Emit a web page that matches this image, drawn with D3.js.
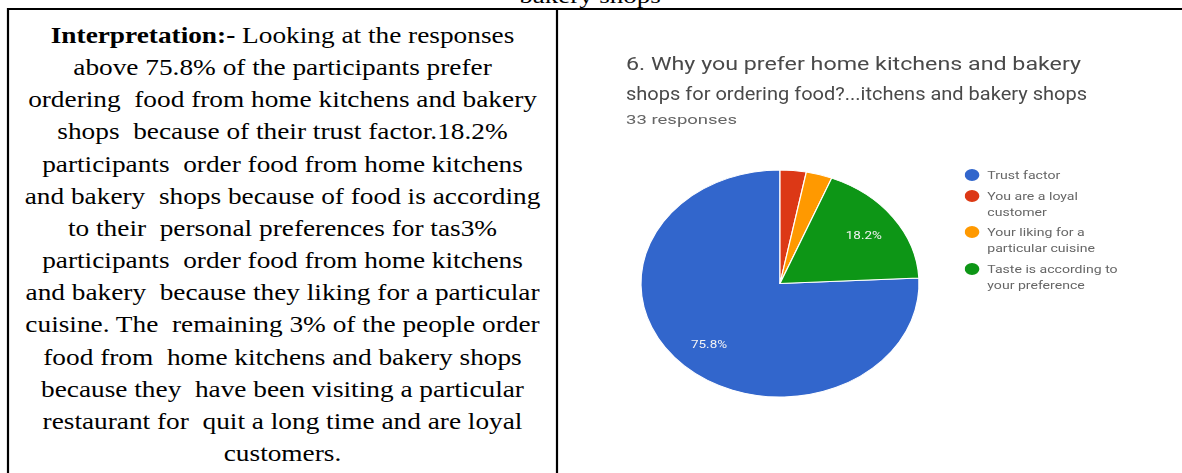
<!DOCTYPE html>
<html>
<head>
<meta charset="utf-8">
<script src="https://cdn.jsdelivr.net/npm/d3@7"></script>
<style>
  html, body { margin: 0; padding: 0; background: #fff; }
  svg { display: block; }
  .serif { font-family: "Liberation Serif", "Times New Roman", serif; }
  .sans { font-family: Roboto, "Open Sans", Arial, sans-serif; }
</style>
</head>
<body>
<svg id="page" width="1182" height="473"></svg>
<script>
// Survey question and answers
const questionLines = [
  "6. Why you prefer home kitchens and bakery",
  "shops for ordering food?...itchens and bakery shops"
];
const responseCount = 33;
const categories = [
  "Trust factor",
  "You are a loyal customer",
  "Your liking for a particular cuisine",
  "Taste is according to your preference"
];
const legendLines = [
  ["Trust factor"],
  ["You are a loyal", "customer"],
  ["Your liking for a", "particular cuisine"],
  ["Taste is according to", "your preference"]
];
const counts = [25, 1, 1, 6];
const percentLabels = ["75.8%", "3%", "3%", "18.2%"];
const colors = ["#3366cc", "#dc3912", "#ff9900", "#109618"];

// Interpretation paragraph, one entry per printed line
const interpretationLines = [
  "Looking at the responses",
  "above 75.8% of the participants prefer",
  "ordering  food from home kitchens and bakery",
  "shops  because of their trust factor.18.2%",
  "participants  order food from home kitchens",
  "and bakery  shops because of food is according",
  "to their  personal preferences for tas3%",
  "participants  order food from home kitchens",
  "and bakery  because they liking for a particular",
  "cuisine. The  remaining 3% of the people order",
  "food from  home kitchens and bakery shops",
  "because they  have been visiting a particular",
  "restaurant for  quit a long time and are loyal",
  "customers."
];
const headingLead = "Interpretation:-";
const captionAbove = "bakery shops";

// keep doubled spaces visible in SVG text
const keepSpaces = s => s.replace(/  /g, " \u00a0");

// the whole page is set horizontally wide
const sx = 1.225;

const svg = d3.select("#page");

// caption of the previous figure, running off the page top
svg.append("g").attr("transform", `translate(590,0) scale(${sx},1)`)
  .append("text").attr("class", "serif")
  .attr("x", 0).attr("y", 2.5).attr("text-anchor", "middle")
  .attr("font-size", 22).attr("fill", "#000")
  .text(captionAbove);

// table rules
const ruleW = 2.2;
svg.append("line").attr("x1", 7).attr("x2", 1182).attr("y1", 9).attr("y2", 9)
  .attr("stroke", "#000").attr("stroke-width", ruleW);
svg.append("line").attr("x1", 8).attr("x2", 8).attr("y1", 8).attr("y2", 473)
  .attr("stroke", "#000").attr("stroke-width", ruleW);
svg.append("line").attr("x1", 557).attr("x2", 557).attr("y1", 8).attr("y2", 473)
  .attr("stroke", "#000").attr("stroke-width", ruleW);

// left cell: centred paragraph
const textCx = 282.5;
const lineY = d3.scaleLinear().domain([0, interpretationLines.length - 1]).range([43, 461]);
const para = svg.append("g")
  .attr("transform", `translate(${textCx},0) scale(${sx},1)`)
  .attr("class", "serif").attr("font-size", 22.3).attr("fill", "#000");
interpretationLines.forEach((ln, i) => {
  const t = para.append("text").attr("x", 0).attr("y", lineY(i)).attr("text-anchor", "middle");
  if (i === 0) {
    t.append("tspan").attr("font-weight", "bold").text(headingLead + " ");
  }
  t.append("tspan").text(keepSpaces(ln));
});

// right cell: the response chart (soft, as a captured screen)
const defs = svg.append("defs");
defs.append("filter").attr("id", "soft").attr("x", "-5%").attr("y", "-5%").attr("width", "110%").attr("height", "110%")
  .append("feGaussianBlur").attr("stdDeviation", 0.75);

const chart = svg.append("g").attr("filter", "url(#soft)");

// question title
const titleG = chart.append("g").attr("class", "sans");
const titleWidths = [455, 461];
questionLines.forEach((q, i) => {
  titleG.append("text").attr("x", 626).attr("y", 70 + i * 30)
    .attr("font-size", 18.5).attr("fill", "#4a4a4a")
    .attr("textLength", titleWidths[i]).attr("lengthAdjust", "spacingAndGlyphs")
    .text(q);
});
titleG.append("text").attr("x", 626).attr("y", 124)
  .attr("font-size", 12.5).attr("fill", "#666")
  .attr("textLength", 111).attr("lengthAdjust", "spacingAndGlyphs")
  .text(responseCount + " responses");

// pie
const radius = 113.5;
const total = d3.sum(counts);
const startA = 2 * Math.PI * (1 - counts[0] / total);
const pie = d3.pie().sort(null).startAngle(startA).endAngle(startA + 2 * Math.PI);
const arcs = pie(counts);
const arc = d3.arc().innerRadius(0).outerRadius(radius);
const labelArc = d3.arc().innerRadius(radius * 0.74).outerRadius(radius * 0.74);

const pieG = chart.append("g").attr("transform", `translate(780,283.5) scale(${sx},1)`);
pieG.selectAll("path").data(arcs).join("path")
  .attr("d", arc)
  .attr("fill", (d, i) => colors[i])
  .attr("stroke", "#fff").attr("stroke-width", 1);

pieG.selectAll("text").data(arcs.filter(d => d.value / total > 0.05)).join("text")
  .attr("class", "sans")
  .attr("transform", d => `translate(${labelArc.centroid(d)})`)
  .attr("text-anchor", "middle").attr("dy", "0.35em")
  .attr("font-size", 11).attr("fill", "#f4f4f4")
  .text(d => percentLabels[d.index]);

// legend
const legendY = [175, 196, 232, 269];
const legG = chart.append("g").attr("transform", `translate(972,0) scale(${sx},1)`);
categories.forEach((c, i) => {
  const item = legG.append("g");
  item.append("circle").attr("cx", 0).attr("cy", legendY[i]).attr("r", 6).attr("fill", colors[i]);
  const t = item.append("text").attr("class", "sans").attr("font-size", 11.5).attr("fill", "#666");
  legendLines[i].forEach((ln, j) => {
    t.append("tspan").attr("x", 12.5).attr("y", legendY[i] + 4.5 + j * 16).text(ln);
  });
});
</script>
</body>
</html>
